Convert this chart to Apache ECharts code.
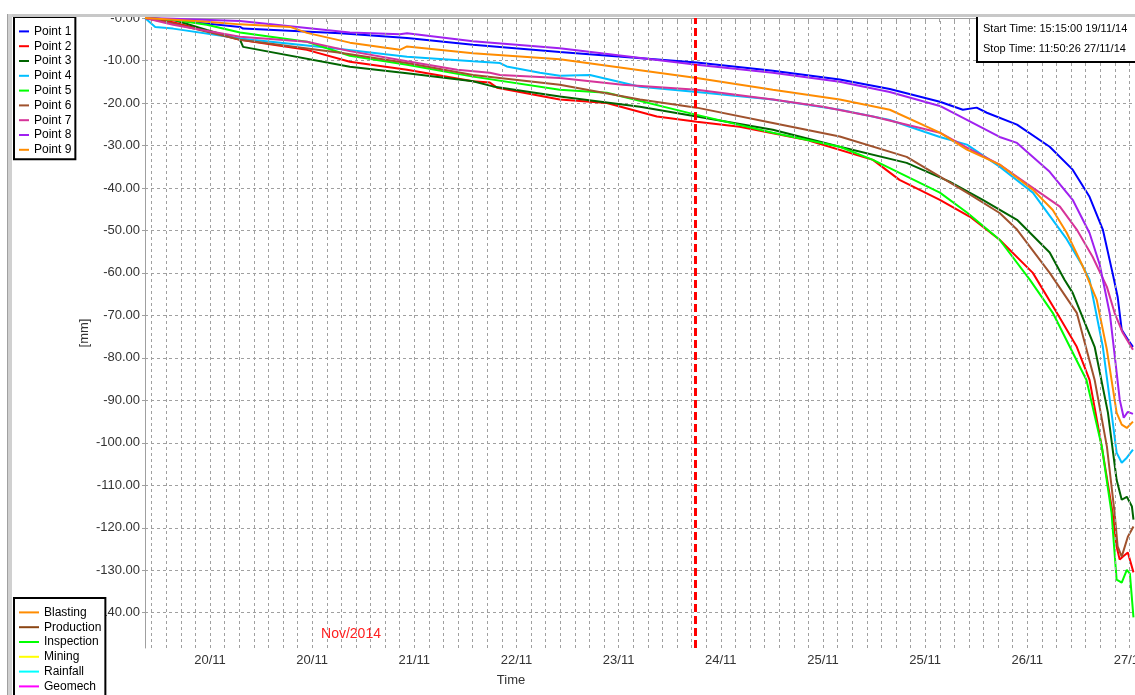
<!DOCTYPE html>
<html><head><meta charset="utf-8">
<script src="https://cdn.jsdelivr.net/npm/echarts@6/dist/echarts.min.js"></script>
<style>html,body{margin:0;padding:0;background:#fff;overflow:hidden}#c{width:1135px;height:695px}</style>
</head><body><div id="c"></div>
<script>
// ---- data (x = hours since 19/11/14 15:15, y = displacement in mm) ----
const pointNames = ['Point 1','Point 2','Point 3','Point 4','Point 5','Point 6','Point 7','Point 8','Point 9'];
const p1 = [[0,0],[5.5,-0.5],[18.6,-2.1],[19.2,-2.5],[38.2,-3.6],[51.3,-4.7],[64.2,-6.3],[81.2,-8.0],[108,-10.5],[122.9,-12.4],[136,-14.5],[145.8,-16.7],[155.6,-19.7],[160.1,-21.6],[162.8,-21.1],[164.8,-22.3],[170.7,-25.1],[177.1,-30.3],[181.6,-35.7],[184.9,-42.1],[187.5,-49.8],[189.4,-60.0],[190.4,-65.6],[191.2,-73.4],[192.4,-75.7],[193.4,-77.4]];
const p2 = [[0,0],[5.5,-1.0],[18.6,-5.1],[31.7,-7.5],[40.1,-10.3],[51.3,-12.2],[64.2,-14.9],[67.5,-15.2],[68.9,-16.4],[81.2,-19.2],[90.4,-20.0],[100.2,-23.2],[108,-24.4],[116.4,-25.6],[129.6,-28.7],[142.5,-33.4],[147.7,-38.1],[155.6,-42.8],[161.5,-46.8],[167.3,-52.2],[173.8,-60.0],[178.5,-69.4],[182.4,-77.4],[184.9,-85.2],[187.3,-100.9],[189.4,-116.4],[190.2,-124.4],[190.8,-127.5],[191.4,-126.8],[192.4,-125.8],[193.5,-130.5]];
const p3 = [[0,0],[5.5,-0.4],[12.1,-2.8],[18.6,-5.1],[19.2,-6.8],[40.1,-11.5],[51.3,-13.0],[64.2,-14.9],[68.1,-16.1],[81.2,-18.5],[96.9,-20.9],[108,-23.2],[122.9,-26.3],[136,-30.3],[149.1,-34.1],[157.5,-38.5],[164,-42.8],[170.7,-47.5],[177.1,-55.2],[180,-61.6],[181.6,-64.7],[185.9,-77.4],[188.5,-92.9],[190.2,-108.7],[191.2,-113.4],[192.2,-112.7],[193.2,-115.0],[193.5,-118.1]];
const p4 = [[0,0],[2,-2.1],[5.5,-2.5],[18.6,-4.8],[38.2,-7.3],[51.3,-9.1],[64.2,-10.2],[69.5,-10.6],[70.8,-11.4],[77.3,-12.9],[81.2,-13.6],[87.1,-13.4],[96.9,-16.2],[108,-17.4],[122.9,-19.2],[136,-21.6],[145.8,-24.0],[155.6,-28.0],[160.9,-29.8],[167.3,-35.0],[173.8,-41.1],[180.4,-52.0],[183.6,-58.5],[184.9,-61.6],[187.5,-77.4],[189.2,-92.9],[190.2,-102.3],[191.2,-104.7],[192.2,-103.5],[193.4,-101.6]];
const p5 = [[0,0],[5.5,-0.4],[12.1,-1.6],[18.6,-3.4],[31.7,-5.6],[40.1,-8.9],[51.3,-11.0],[64.2,-13.8],[81.2,-16.9],[90.4,-17.6],[108,-22.8],[122.9,-27.0],[136,-30.3],[142.5,-33.4],[155.6,-41.1],[160.9,-45.8],[167.3,-52.2],[173.2,-61.6],[177.7,-69.4],[184.3,-85.2],[187.3,-100.9],[189.2,-116.4],[190.2,-132.2],[191.2,-132.9],[192.2,-129.9],[192.8,-130.8],[193.5,-141.1]];
const p6 = [[0,0],[5.5,-1.3],[18.6,-5.1],[38.2,-8.2],[51.3,-10.6],[64.2,-13.4],[81.2,-15.7],[96.9,-19.2],[108,-21.1],[122.9,-24.7],[136,-27.9],[149.1,-32.7],[160.9,-41.1],[167.3,-45.9],[170.7,-49.8],[177.1,-60.0],[182.4,-69.4],[185.9,-85.2],[188.3,-100.9],[189.8,-116.4],[190.4,-124.4],[191.2,-126.8],[192.4,-122.1],[193.5,-119.7]];
const p7 = [[0,0],[5.5,-1.6],[18.6,-4.4],[31.7,-5.6],[40.1,-7.8],[51.3,-10.2],[61.1,-12.2],[67.5,-12.9],[69.5,-13.4],[81.2,-14.1],[93.5,-15.7],[108,-16.9],[122.9,-19.2],[132.7,-20.9],[142.5,-23.2],[155.6,-27.0],[160.9,-30.5],[167.3,-34.5],[170.7,-37.4],[179.1,-44.4],[182.4,-49.8],[185.5,-56.2],[188.3,-63.3],[189.8,-69.4],[191.4,-74.1],[193.4,-78.1]];
const p8 = [[0,0],[5.5,-0.2],[18.6,-0.7],[40.1,-3.4],[49.9,-3.8],[51.3,-3.6],[64.2,-5.5],[81.2,-7.1],[108,-11.0],[122.9,-12.9],[136,-15.0],[145.8,-17.4],[155.6,-20.7],[160.9,-24.0],[167.3,-28.0],[170.7,-29.4],[177.1,-36.2],[181.6,-42.8],[184.9,-50.6],[186.9,-58.1],[188.9,-69.8],[189.8,-79.2],[190.8,-89.8],[191.6,-94.1],[192.4,-92.7],[193.4,-93.2]];
const p9 = [[0,0],[12.1,-0.9],[18.6,-1.5],[28.4,-2.1],[31.7,-3.5],[40.1,-5.8],[49.9,-7.5],[51.3,-6.7],[64.2,-8.3],[81.2,-9.7],[108,-14.1],[122.9,-16.9],[136,-19.2],[145.8,-21.6],[155.6,-27.0],[160.9,-31.0],[167.3,-34.5],[170.7,-37.6],[173.8,-40.4],[177.7,-45.2],[180.4,-50.5],[183.6,-58.5],[186.3,-66.3],[188.3,-78.1],[190.2,-92.9],[191.2,-95.7],[192.2,-96.5],[193.4,-95.0]];
const eventNames = ['Blasting','Production','Inspection','Mining','Rainfall','Geomech'];
const xTickLabels = ['20/11','20/11','21/11','22/11','23/11','24/11','25/11','25/11','26/11','27/11'];
const xLabelStart = 12.72;   // hours, first labelled tick
const xLabelStep = 20;       // hours between labels
const xMinorPerLabel = 7;
const yTicks = [0,-10,-20,-30,-40,-50,-60,-70,-80,-90,-100,-110,-120,-130,-140];
const markerHour = 107.8;
const infoLines = ['Start Time: 15:15:00 19/11/14','Stop Time: 11:50:26 27/11/14'];
const periodLabel = 'Nov/2014';

// ---- styles ----
const pointColors = ['#0000ff','#ff0000','#006400','#00bfff','#00ff00','#a0522d','#d63399','#a020f0','#ff8c00'];
const eventColors = ['#ff8c00','#8b4513','#00ff00','#ffff00','#00ffff','#ff00ff'];
const FONT = 'Liberation Sans, Arial, sans-serif';
const GRID_COLOR = '#a0a0a0';
const pointData = [p1,p2,p3,p4,p5,p6,p7,p8,p9];

const xMax = 193.8;
const minorStep = xLabelStep / xMinorPerLabel;
const xMinor = [];
for (let v = xLabelStart - Math.floor(xLabelStart / minorStep) * minorStep; v <= xMax; v += minorStep) xMinor.push(+v.toFixed(4));
const xLabelVals = xTickLabels.map((_, i) => xLabelStart + i * xLabelStep);

const series = [];
// vertical dashed grid lines at every minor time tick
series.push({
  name: '_grid', type: 'line', data: [], z: 1, silent: true,
  markLine: {
    silent: true, symbol: 'none', label: { show: false }, animation: false,
    lineStyle: { color: GRID_COLOR, width: 1, type: [3, 3] },
    emphasis: { disabled: true },
    data: xMinor.map(v => ({ xAxis: v }))
  }
});
pointNames.forEach((n, i) => series.push({
  name: n, type: 'line', data: pointData[i], showSymbol: false, symbol: 'none',
  lineStyle: { width: 2, color: pointColors[i] }, itemStyle: { color: pointColors[i] },
  emphasis: { disabled: true }, z: 2
}));
series.push({
  name: '_marker', type: 'line', data: [], z: 3, silent: true,
  markLine: {
    silent: true, symbol: 'none', label: { show: false }, animation: false,
    lineStyle: { color: '#ff0000', width: 3, type: [8, 4] },
    emphasis: { disabled: true },
    data: [{ xAxis: markerHour }]
  }
});
eventNames.forEach((n, i) => series.push({ name: n, type: 'line', data: [], itemStyle: { color: eventColors[i] }, lineStyle: { color: eventColors[i] } }));

const legendCommon = {
  orient: 'vertical', icon: 'rect', itemHeight: 2, itemGap: 0, selectedMode: false,
  backgroundColor: '#fff', borderColor: '#000', borderWidth: 2, borderRadius: 0,
  textStyle: { fontSize: 12, color: '#000', fontFamily: FONT, lineHeight: 14.8 }
};

const chart = echarts.init(document.getElementById('c'), null, { renderer: 'canvas' });
chart.setOption({
  animation: false,
  backgroundColor: '#fff',
  grid: { left: 145, right: 0, top: 18, bottom: 47, containLabel: false, outerBoundsMode: 'none' },
  title: {
    text: infoLines.join('\n'), left: 977, top: 16, padding: [3, 30, 3, 6],
    borderColor: '#000', borderWidth: 2, backgroundColor: '#fff',
    textStyle: { fontSize: 11, fontWeight: 'normal', color: '#000', fontFamily: FONT, lineHeight: 20 }
  },
  legend: [
    Object.assign({}, legendCommon, { data: pointNames, left: 14, top: 17, itemWidth: 10, padding: [7, 4, 2, 5], height: 200 }),
    Object.assign({}, legendCommon, { data: eventNames, left: 14, top: 598, itemWidth: 20, padding: [7, 4, 4, 5], height: 140 })
  ],
  xAxis: {
    type: 'value', min: 0, max: xMax,
    axisLine: { show: true, lineStyle: { color: GRID_COLOR } },
    axisTick: { show: true, customValues: xMinor, length: 4, lineStyle: { color: GRID_COLOR } },
    axisLabel: {
      customValues: xLabelVals, margin: 6, fontSize: 13, color: '#333', fontFamily: FONT,
      formatter: v => xTickLabels[Math.round((v - xLabelStart) / xLabelStep)]
    },
    splitLine: { show: false }
  },
  yAxis: {
    type: 'value', min: -148.3, max: 0,
    name: '[mm]', nameLocation: 'middle', nameGap: 54, nameRotate: 90, nameMoveOverlap: false,
    nameTextStyle: { fontSize: 13, color: '#333', fontFamily: FONT },
    axisLine: { show: true, lineStyle: { color: GRID_COLOR } },
    axisTick: { show: true, customValues: yTicks, length: 3, lineStyle: { color: GRID_COLOR } },
    axisLabel: {
      customValues: yTicks, margin: 5, fontSize: 13, color: '#333', fontFamily: FONT,
      formatter: v => (v === 0 ? '-0.00' : v.toFixed(2))
    },
    splitLine: { show: true, lineStyle: { color: GRID_COLOR, type: [3, 3], width: 1 } }
  },
  graphic: [
    { type: 'rect', z: 100, shape: { x: 0, y: 0, width: 1135, height: 14 }, style: { fill: '#fff' } },
    { type: 'rect', z: 101, shape: { x: 7, y: 14, width: 1128, height: 3 }, style: { fill: '#c8c8c8' } },
    { type: 'rect', z: 101, shape: { x: 7, y: 14, width: 5, height: 681 }, style: { fill: '#d0d0d0' } },
    { type: 'rect', z: 102, shape: { x: 7, y: 14, width: 1, height: 681 }, style: { fill: '#a0a0a0' } },
    { type: 'text', z: 50, x: 351, y: 634, style: { text: periodLabel, fill: '#ff2020', font: '14px ' + FONT, textAlign: 'center', textVerticalAlign: 'middle' } },
    { type: 'text', z: 50, x: 511, y: 680, style: { text: 'Time', fill: '#333', font: '13px ' + FONT, textAlign: 'center', textVerticalAlign: 'middle' } }
  ],
  series: series
});
</script>
</body></html>
